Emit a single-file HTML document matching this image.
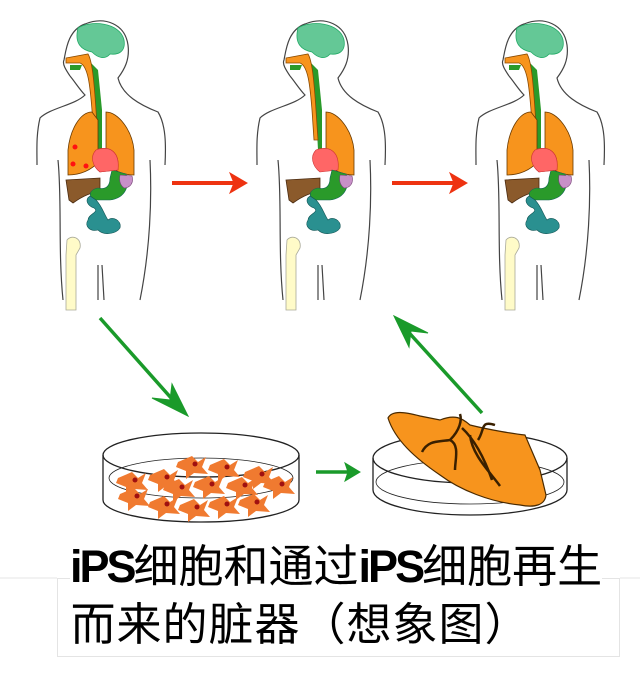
<!DOCTYPE html>
<html><head><meta charset="utf-8"><style>
html,body{margin:0;padding:0;background:#fff;width:640px;height:675px;overflow:hidden}
.t{position:absolute;left:70px;font-family:"Liberation Sans","Noto Sans CJK SC",sans-serif;font-size:45px;line-height:45px;white-space:nowrap;color:#000}
.t b{font-weight:bold;letter-spacing:-3px}
.t span{display:inline-block;width:45px;text-align:center}
.t2 span{width:46px}
</style></head><body>
<svg width="640" height="675" style="position:absolute;left:0;top:0">
<defs>
<path id="lung" d="M92,112 C80,112 70,130 68,150 L68,175 C80,175 92,170 98,162 L98,120Z" fill="#f7941d" stroke="#6a3a00" stroke-width="0.8"/>
<g id="body">
 <path d="M70,76 C66,70 62,64 64,60 C66,50 68,30 85,24 C105,16 125,24 128,45 C130,60 124,70 118,78 C122,95 140,105 158,112 C166,125 166,145 165,165" fill="none" stroke="#444" stroke-width="1.2"/>
 <path d="M70,76 C75,82 80,90 85,95 C75,105 50,108 40,118 C36,135 37,150 37,165" fill="none" stroke="#444" stroke-width="1.2"/>
 <path d="M150,160 C152,200 150,250 140,300 M58,160 C62,200 58,250 63,300 M98,265 L98,300 M102,265 L104,300" fill="none" stroke="#444" stroke-width="1.2"/>
 <path d="M78,28 C90,20 120,22 124,40 C126,52 118,55 110,54 C105,60 98,58 92,52 C82,50 74,44 78,28Z" fill="#64c896" stroke="#2a6" stroke-width="0.8"/>
 <path d="M90,62 L98,70 L102,110 L102,150 L98,150 L96,112Z" fill="#2a9a2a"/>
 <path d="M66,58 L88,54 C92,60 94,80 96,110 L98,140 L94,140 L92,110 C90,85 88,66 80,63 L66,63Z" fill="#f7941d" stroke="#8a4a00" stroke-width="0.8"/>
 <path d="M70,65 L82,65 L80,70 L70,70Z" fill="#2a9a2a"/>
 <path d="M106,112 C118,112 132,130 134,150 L134,175 C122,175 112,170 106,162Z" fill="#f7941d" stroke="#6a3a00" stroke-width="0.8"/>
 <path d="M96,150 C110,145 120,152 118,170 L100,172 C92,166 90,156 96,150Z" fill="#f66" stroke="#c33" stroke-width="0.6"/>
 <path d="M66,180 L100,178 L100,192 C90,192 80,198 73,203 L69,200Z" fill="#8b5a2b" stroke="#4a2a10" stroke-width="0.8"/>
 <path d="M112,170 L126,174 C130,185 126,198 110,200 L96,200 C88,198 88,190 98,188 C106,190 110,186 110,178Z" fill="#2a9a2a" stroke="#165" stroke-width="0.6"/>
 <path d="M120,175 L132,176 C134,183 130,188 124,188 C120,185 119,180 120,175Z" fill="#c890c8" stroke="#747" stroke-width="0.6"/>
 <path d="M90,196 C84,200 88,206 94,208 C100,212 88,214 88,220 C84,226 90,232 98,230 C104,236 116,234 120,228 C122,220 112,216 108,220 C104,214 102,206 96,200Z" fill="#2a9090" stroke="#155" stroke-width="0.6"/>
 <path d="M67,240 C72,234 82,238 80,248 L76,255 L76,310 L66,310 L66,255Z" fill="#fffbc8" stroke="#aa9" stroke-width="0.8"/>
</g>
</defs>
<use href="#body" x="0" y="0"/><use href="#lung" x="0" y="0"/>
<path d="M96,150 C110,145 120,152 118,170 L100,172 C92,166 90,156 96,150Z" fill="#f66" stroke="#c33" stroke-width="0.6"/>
<circle cx="75" cy="147" r="2.5" fill="#f11"/><circle cx="73" cy="164" r="2.5" fill="#f11"/><circle cx="86" cy="166" r="2.5" fill="#f11"/>
<use href="#body" x="220" y="0"/>
<use href="#body" x="439" y="0"/><use href="#lung" x="439" y="0"/>
<path d="M535,150 C549,145 559,152 557,170 L539,172 C531,166 529,156 535,150Z" fill="#f66" stroke="#c33" stroke-width="0.6"/>
<g fill="#e31" stroke="#e31">
<line x1="172" y1="183" x2="236" y2="183" stroke-width="4"/><path d="M247,183 L230,173 L234,183 L230,193Z"/>
<line x1="392" y1="183" x2="456" y2="183" stroke-width="4"/><path d="M467,183 L450,173 L454,183 L450,193Z"/>
</g>
<g stroke="#1a9a2a" fill="#1a9a2a">
<line x1="100" y1="318" x2="180" y2="408" stroke-width="3.5"/><path d="M188,416 L152,398 L170,400 L172,384Z"/>
<line x1="316" y1="472" x2="350" y2="472" stroke-width="3.5"/><path d="M360,472 L345,463 L348,472 L345,481Z"/>
<line x1="482" y1="413" x2="402" y2="325" stroke-width="3.5"/><path d="M394,316 L428,333 L411,331 L409,347Z"/>
</g>
<g fill="none" stroke="#222" stroke-width="1.3">
<path d="M103,455 L103,500 A98,22 0 0 0 299,500 L299,455"/>
<ellipse cx="201" cy="455" rx="98" ry="22"/>
<ellipse cx="201" cy="478" rx="92" ry="20" stroke-width="0.8"/>
</g>
<g fill="#f07a30">
<path d="M118,478 l14,-6 l6,6 l8,-5 l-4,10 l6,7 l-14,-1 l-8,6 l0,-8 l-10,-4Z"/>
<path d="M150,475 l14,-6 l6,6 l8,-5 l-4,10 l6,7 l-14,-1 l-8,6 l0,-8 l-10,-4Z"/>
<path d="M178,462 l14,-6 l6,6 l8,-5 l-4,10 l6,7 l-14,-1 l-8,6 l0,-8 l-10,-4Z"/>
<path d="M210,465 l14,-6 l6,6 l8,-5 l-4,10 l6,7 l-14,-1 l-8,6 l0,-8 l-10,-4Z"/>
<path d="M245,472 l14,-6 l6,6 l8,-5 l-4,10 l6,7 l-14,-1 l-8,6 l0,-8 l-10,-4Z"/>
<path d="M165,485 l14,-6 l6,6 l8,-5 l-4,10 l6,7 l-14,-1 l-8,6 l0,-8 l-10,-4Z"/>
<path d="M195,482 l14,-6 l6,6 l8,-5 l-4,10 l6,7 l-14,-1 l-8,6 l0,-8 l-10,-4Z"/>
<path d="M228,483 l14,-6 l6,6 l8,-5 l-4,10 l6,7 l-14,-1 l-8,6 l0,-8 l-10,-4Z"/>
<path d="M265,482 l14,-6 l6,6 l8,-5 l-4,10 l6,7 l-14,-1 l-8,6 l0,-8 l-10,-4Z"/>
<path d="M120,494 l14,-6 l6,6 l8,-5 l-4,10 l6,7 l-14,-1 l-8,6 l0,-8 l-10,-4Z"/>
<path d="M150,502 l14,-6 l6,6 l8,-5 l-4,10 l6,7 l-14,-1 l-8,6 l0,-8 l-10,-4Z"/>
<path d="M180,505 l14,-6 l6,6 l8,-5 l-4,10 l6,7 l-14,-1 l-8,6 l0,-8 l-10,-4Z"/>
<path d="M210,502 l14,-6 l6,6 l8,-5 l-4,10 l6,7 l-14,-1 l-8,6 l0,-8 l-10,-4Z"/>
<path d="M240,500 l14,-6 l6,6 l8,-5 l-4,10 l6,7 l-14,-1 l-8,6 l0,-8 l-10,-4Z"/>
</g>
<g fill="#a01010">
<circle cx="135" cy="480" r="2.5"/><circle cx="167" cy="477" r="2.5"/><circle cx="195" cy="464" r="2.5"/><circle cx="227" cy="467" r="2.5"/><circle cx="262" cy="474" r="2.5"/><circle cx="182" cy="487" r="2.5"/><circle cx="212" cy="484" r="2.5"/><circle cx="245" cy="485" r="2.5"/><circle cx="282" cy="484" r="2.5"/><circle cx="137" cy="496" r="2.5"/><circle cx="167" cy="504" r="2.5"/><circle cx="197" cy="507" r="2.5"/><circle cx="227" cy="504" r="2.5"/><circle cx="257" cy="502" r="2.5"/>
</g>
<g fill="none" stroke="#222" stroke-width="1.3">
<path d="M373,458 L373,490 A97,25 0 0 0 567,490 L567,458"/>
<ellipse cx="470" cy="458" rx="97" ry="25"/>
<ellipse cx="470" cy="482" rx="94" ry="22" stroke-width="0.8"/>
</g>
<path d="M388,418 C392,410 405,412 420,416 L440,420 C455,414 462,418 470,425 C490,430 515,434 525,435 L540,470 L546,495 C545,505 535,508 520,505 C490,502 460,490 440,475 C415,458 395,440 388,418Z" fill="#f7941d" stroke="#4a2a00" stroke-width="1.2"/>
<path d="M422,452 C428,440 438,442 450,440 C460,430 462,420 460,414 M450,440 C460,445 455,460 455,470 M462,428 C475,440 485,460 492,480 M478,440 C485,430 480,420 495,425 M470,435 C472,455 490,472 500,486" fill="none" stroke="#3a2000" stroke-width="2.5"/>
<path d="M0,578 L57,578 M620,578 L640,578" stroke="#e4e4e4" stroke-width="1"/>
<rect x="57.5" y="578.5" width="562" height="78" fill="none" stroke="#e4e4e4" stroke-width="1"/>
</svg>
<div class="t" style="top:544px;background:#fff"><b>iPS</b><span>细</span><span>胞</span><span>和</span><span>通</span><span>过</span><b>iPS</b><span>细</span><span>胞</span><span>再</span><span>生</span></div>
<div class="t t2" style="top:602px"><span>而</span><span>来</span><span>的</span><span>脏</span><span>器</span><span>（</span><span>想</span><span>象</span><span>图</span><span>）</span></div>
</body></html>
